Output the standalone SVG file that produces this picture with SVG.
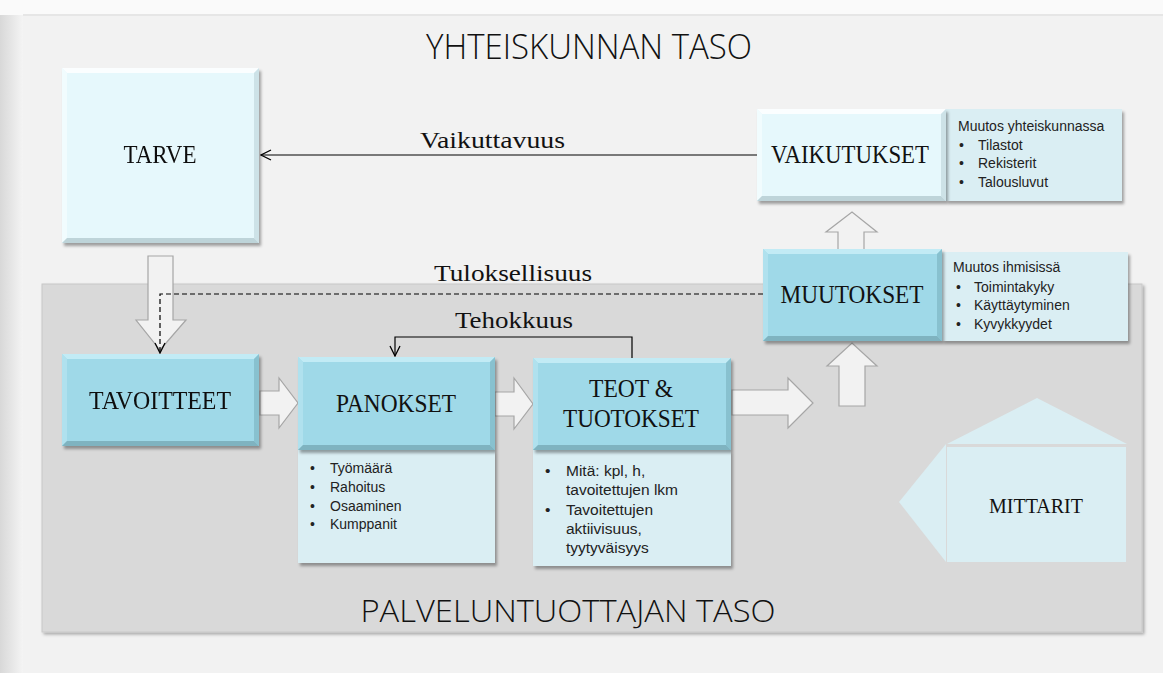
<svg xmlns="http://www.w3.org/2000/svg" width="1163" height="673" viewBox="0 0 1163 673">
  <defs>
    <filter id="sh" x="-10%" y="-10%" width="130%" height="130%">
      <feDropShadow dx="2" dy="3" stdDeviation="1.8" flood-color="#000" flood-opacity="0.35"/>
    </filter>
    <filter id="sh2" x="-5%" y="-5%" width="110%" height="110%">
      <feDropShadow dx="2" dy="2" stdDeviation="1.5" flood-color="#000" flood-opacity="0.3"/>
    </filter>
    <marker id="open" viewBox="0 0 12 12" refX="11" refY="6" markerWidth="12" markerHeight="12" markerUnits="userSpaceOnUse" orient="auto">
      <path d="M1,1 L11,6 L1,11" fill="none" stroke="#000" stroke-width="1.3"/>
    </marker>
    <linearGradient id="leftbg" x1="0" y1="0" x2="1" y2="0">
      <stop offset="0" stop-color="#d8d8d8"/>
      <stop offset="1" stop-color="#f4f4f4"/>
    </linearGradient>
  </defs>
  <style>
    .serif{font-family:"Liberation Serif","Times New Roman",serif;fill:#111;}
    .title{font-size:25px;text-anchor:middle;}
    .sans{font-family:"Liberation Sans",Arial,sans-serif;fill:#222;}
    .light{font-family:"Open Sans","Liberation Sans",sans-serif;font-weight:300;fill:#111;}
    .s14{font-size:14px;}
    .s15{font-size:15.5px;}
    .dark{fill:#9fd9e8;}
    .darkT{fill:#c2ebf5;}
    .darkL{fill:#b0e1ee;}
    .darkR{fill:#88c1cf;}
    .darkB{fill:#7fb3c0;}
    .pale{fill:#e6f8fc;}
    .paleT{fill:#fbfeff;}
    .paleL{fill:#f1fcfe;}
    .paleR{fill:#cde2e7;}
    .paleB{fill:#bed4d9;}
    .info{fill:#daeef3;}
    .blk{fill:#f2f2f2;stroke:#a6a6a6;stroke-width:1.2;}
    .conn{fill:none;stroke:#000;stroke-width:1.2;}
    .dash{stroke-dasharray:5 3;}
  </style>

  <!-- background -->
  <rect x="0" y="0" width="1163" height="673" fill="#fafafa"/>
  <rect x="0" y="15" width="23" height="658" fill="url(#leftbg)"/>
  <rect x="23" y="15" width="1140" height="658" fill="#f2f2f2"/>
  <line x1="23" y1="15" x2="1163" y2="15" stroke="#e6e6e6" stroke-width="2"/>

  <!-- level titles -->
  <text class="light" x="589" y="59" font-size="34" text-anchor="middle" textLength="326" lengthAdjust="spacingAndGlyphs">YHTEISKUNNAN TASO</text>

  <!-- service provider level region -->
  <g id="palveluntuottajan-taso">
    <rect x="42" y="284" width="1100" height="348" fill="#d9d9d9" stroke="#c8c8c8" stroke-width="1" filter="url(#sh2)"/>
    <text class="light" x="568" y="622" font-size="32" text-anchor="middle" textLength="415" lengthAdjust="spacingAndGlyphs">PALVELUNTUOTTAJAN TASO</text>
  </g>

  <!-- block arrows -->
  <g id="block-arrows">
    <polygon class="blk" points="148,256 173,256 173,320 186,320 160,350 136,320 148,320"/>
    <polygon class="blk" points="260,391 279,391 279,378 298,403 279,428 279,415 260,415"/>
    <polygon class="blk" points="495,392 514,392 514,378 533,404 514,429 514,416 495,416"/>
    <polygon class="blk" points="732,390 788,390 788,378 813,403 788,428 788,415 732,415"/>
    <polygon class="blk" points="839,406 839,366 827,366 852,343 877,366 865,366 865,406"/>
    <polygon class="blk" points="838,252 838,232 826,232 852,212 877,232 864,232 864,252"/>
  </g>

  <!-- connectors -->
  <g id="connectors">
    <line class="conn" x1="757" y1="155" x2="261" y2="155" marker-end="url(#open)"/>
    <text class="serif" x="420" y="148" font-size="24" textLength="145" lengthAdjust="spacingAndGlyphs">Vaikuttavuus</text>
    <polyline class="conn" points="632,358 632,337 395,337 395,356" marker-end="url(#open)"/>
    <text class="serif" x="455" y="328" font-size="24" textLength="118" lengthAdjust="spacingAndGlyphs">Tehokkuus</text>
    <polyline class="conn dash" points="763,294 160,294 160,353" marker-end="url(#open)"/>
    <text class="serif" x="434" y="281" font-size="24" textLength="158" lengthAdjust="spacingAndGlyphs">Tuloksellisuus</text>
  </g>

  <!-- TARVE -->
  <g id="tarve" filter="url(#sh)">
    <rect class="pale" x="62" y="68" width="197" height="175"/>
    <polygon class="paleT" points="62,68 259,68 254,73 67,73"/>
    <polygon class="paleL" points="62,68 67,73 67,238 62,243"/>
    <polygon class="paleR" points="259,68 259,243 254,238 254,73"/>
    <polygon class="paleB" points="62,243 259,243 254,238 67,238"/>
    <text class="serif title" x="160" y="163" textLength="73" lengthAdjust="spacingAndGlyphs">TARVE</text>
  </g>

  <!-- VAIKUTUKSET -->
  <g id="vaikutukset">
    <rect class="info" x="946" y="109" width="176" height="92" filter="url(#sh)"/>
    <g filter="url(#sh)">
      <rect class="pale" x="757" y="109" width="189" height="92"/>
      <polygon class="paleT" points="757,109 946,109 941,114 762,114"/>
      <polygon class="paleL" points="757,109 762,114 762,196 757,201"/>
      <polygon class="paleR" points="946,109 946,201 941,196 941,114"/>
      <polygon class="paleB" points="757,201 946,201 941,196 762,196"/>
    </g>
    <text class="serif title" x="850" y="163" textLength="158" lengthAdjust="spacingAndGlyphs">VAIKUTUKSET</text>
    <text class="sans s14" x="958" y="131">Muutos yhteiskunnassa</text>
    <text class="sans s14" x="959" y="150">•</text><text class="sans s14" x="978" y="150">Tilastot</text>
    <text class="sans s14" x="959" y="168">•</text><text class="sans s14" x="978" y="168">Rekisterit</text>
    <text class="sans s14" x="959" y="187">•</text><text class="sans s14" x="978" y="187">Talousluvut</text>
  </g>

  <!-- MUUTOKSET -->
  <g id="muutokset">
    <rect class="info" x="942" y="252" width="186" height="89" filter="url(#sh)"/>
    <g filter="url(#sh)">
      <rect class="dark" x="763" y="249" width="179" height="92"/>
      <polygon class="darkT" points="763,249 942,249 937,254 768,254"/>
      <polygon class="darkL" points="763,249 768,254 768,336 763,341"/>
      <polygon class="darkR" points="942,249 942,341 937,336 937,254"/>
      <polygon class="darkB" points="763,341 942,341 937,336 768,336"/>
    </g>
    <text class="serif title" x="852" y="303" textLength="143" lengthAdjust="spacingAndGlyphs">MUUTOKSET</text>
    <text class="sans s14" x="953" y="272">Muutos ihmisissä</text>
    <text class="sans s14" x="956" y="292">•</text><text class="sans s14" x="974" y="292">Toimintakyky</text>
    <text class="sans s14" x="956" y="310">•</text><text class="sans s14" x="974" y="310">Käyttäytyminen</text>
    <text class="sans s14" x="956" y="329">•</text><text class="sans s14" x="974" y="329">Kyvykkyydet</text>
  </g>

  <!-- TAVOITTEET -->
  <g id="tavoitteet" filter="url(#sh)">
    <rect class="dark" x="62" y="354" width="197" height="92"/>
    <polygon class="darkT" points="62,354 259,354 254,359 67,359"/>
    <polygon class="darkL" points="62,354 67,359 67,441 62,446"/>
    <polygon class="darkR" points="259,354 259,446 254,441 254,359"/>
    <polygon class="darkB" points="62,446 259,446 254,441 67,441"/>
    <text class="serif title" x="160" y="409" textLength="142" lengthAdjust="spacingAndGlyphs">TAVOITTEET</text>
  </g>

  <!-- PANOKSET -->
  <g id="panokset">
    <rect class="info" x="298" y="450" width="197" height="113" filter="url(#sh)"/>
    <g filter="url(#sh)">
      <rect class="dark" x="298" y="357" width="197" height="93"/>
      <polygon class="darkT" points="298,357 495,357 490,362 303,362"/>
      <polygon class="darkL" points="298,357 303,362 303,445 298,450"/>
      <polygon class="darkR" points="495,357 495,450 490,445 490,362"/>
      <polygon class="darkB" points="298,450 495,450 490,445 303,445"/>
    </g>
    <text class="serif title" x="396" y="412" textLength="120" lengthAdjust="spacingAndGlyphs">PANOKSET</text>
    <text class="sans s14" x="310" y="473">•</text><text class="sans s14" x="330" y="473">Työmäärä</text>
    <text class="sans s14" x="310" y="492">•</text><text class="sans s14" x="330" y="492">Rahoitus</text>
    <text class="sans s14" x="310" y="511">•</text><text class="sans s14" x="330" y="511">Osaaminen</text>
    <text class="sans s14" x="310" y="529">•</text><text class="sans s14" x="330" y="529">Kumppanit</text>
  </g>

  <!-- TEOT & TUOTOKSET -->
  <g id="teot-tuotokset">
    <rect class="info" x="533" y="450" width="198" height="116" filter="url(#sh)"/>
    <g filter="url(#sh)">
      <rect class="dark" x="533" y="358" width="198" height="92"/>
      <polygon class="darkT" points="533,358 731,358 726,363 538,363"/>
      <polygon class="darkL" points="533,358 538,363 538,445 533,450"/>
      <polygon class="darkR" points="731,358 731,450 726,445 726,363"/>
      <polygon class="darkB" points="533,450 731,450 726,445 538,445"/>
    </g>
    <text class="serif title" x="631" y="397" textLength="84" lengthAdjust="spacingAndGlyphs">TEOT &amp;</text>
    <text class="serif title" x="631" y="427" textLength="136" lengthAdjust="spacingAndGlyphs">TUOTOKSET</text>
    <text class="sans s15" x="545" y="476">•</text><text class="sans s15" x="566" y="476">Mitä: kpl, h,</text>
    <text class="sans s15" x="566" y="495">tavoitettujen lkm</text>
    <text class="sans s15" x="545" y="515">•</text><text class="sans s15" x="566" y="515">Tavoitettujen</text>
    <text class="sans s15" x="566" y="534">aktiivisuus,</text>
    <text class="sans s15" x="566" y="553">tyytyväisyys</text>
  </g>

  <!-- MITTARIT -->
  <g id="mittarit">
    <polygon fill="#daeef3" points="947,444 1037,398 1127,444"/>
    <polygon fill="#daeef3" points="946,444 946,562 899,502"/>
    <rect x="947" y="447" width="179" height="115" fill="#daeef3"/>
    <text class="serif" x="1036" y="513" font-size="21" text-anchor="middle" textLength="94" lengthAdjust="spacingAndGlyphs">MITTARIT</text>
  </g>
</svg>
